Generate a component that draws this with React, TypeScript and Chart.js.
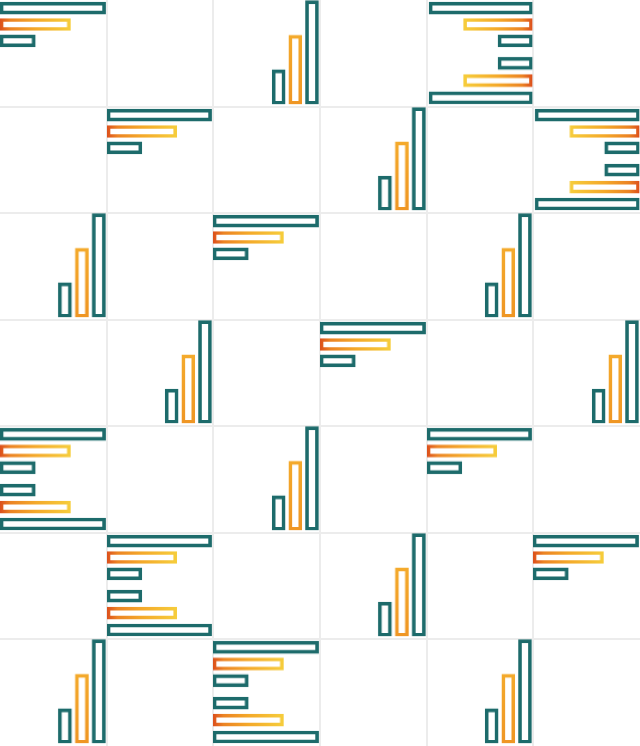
import React, { useEffect, useRef } from "react";
import { Chart, registerables } from "chart.js";

Chart.register(...registerables);

// ---- data ----
const barLabels = ["long", "medium", "short"];
const barValues = [3, 2, 1];
const horizontalMax = 3.06;
const verticalMax = 3.02;

// tile layout: H3 = three bars from the top-left, H6L / H6R = mirrored pair (left / right aligned), V = vertical bars
const tileRows = [
  ["H3", "", "V", "", "H6R", ""],
  ["", "H3", "", "V", "", "H6R"],
  ["V", "", "H3", "", "V", ""],
  ["", "V", "", "H3", "", "V"],
  ["H6L", "", "V", "", "H3", ""],
  ["", "H6L", "", "V", "", "H3"],
  ["V", "", "H6L", "", "V", ""],
];

// ---- styles ----
const TEAL = "#1d6b6b";
const W = 640;
const H = 746;
const COLS = 6;
const ROWS = 7;
const CW = W / COLS;
const CH = H / ROWS;

type Kind = "top" | "bottom" | "topR" | "bottomR" | "vertical";

function orangeGradient(chart: any, kind: Kind) {
  const { ctx, chartArea, scales } = chart;
  if (!chartArea || !scales.x || !scales.y) return "#f2a229";
  if (kind === "vertical") {
    const y0 = scales.y.getPixelForValue(0);
    const y1 = scales.y.getPixelForValue(2);
    const g = ctx.createLinearGradient(0, y0, 0, y1);
    g.addColorStop(0, "#ef9624");
    g.addColorStop(1, "#f4aa2c");
    return g;
  }
  const x0 = scales.x.getPixelForValue(0);
  const x1 = scales.x.getPixelForValue(2);
  const g = ctx.createLinearGradient(x0, 0, x1, 0);
  g.addColorStop(0, "#dc4f1c");
  g.addColorStop(0.15, "#ec8424");
  g.addColorStop(0.5, "#f4a92a");
  g.addColorStop(1, "#f6cd3c");
  return g;
}

function Motif({ kind, left, top, width, height }: { kind: Kind; left: number; top: number; width: number; height: number }) {
  const ref = useRef<HTMLCanvasElement>(null);
  useEffect(() => {
    if (!ref.current) return;
    const horizontal = kind !== "vertical";
    const reverseValue = kind === "topR" || kind === "bottomR";
    const reverseIndex = kind === "bottom" || kind === "bottomR";
    let padding: any;
    if (kind === "vertical") {
      padding = { left: width - 51 + 1, right: -1, top: 0, bottom: 3.3 };
    } else if (!reverseIndex) {
      padding = { top: -1.6, bottom: height - 50.55 + 1.6, left: reverseValue ? 0 : 0, right: reverseValue ? 1.2 : 0 };
    } else {
      padding = { bottom: 0.85, top: height - 50.7 - 0.85, left: 0, right: reverseValue ? 1.2 : 0 };
    }
    const chart = new Chart(ref.current, {
      type: "bar",
      data: {
        labels: barLabels,
        datasets: [
          {
            data: barValues,
            borderColor: (c: any) => (c.dataIndex === 1 ? orangeGradient(c.chart, kind) : TEAL),
            backgroundColor: "rgba(0,0,0,0)",
            borderWidth: 3,
            borderSkipped: false,
            barThickness: horizontal ? 12 : 13,
          } as any,
        ],
      },
      options: {
        animation: false,
        responsive: true,
        maintainAspectRatio: false,
        indexAxis: horizontal ? "y" : "x",
        events: [],
        layout: { padding },
        plugins: { legend: { display: false }, tooltip: { enabled: false } },
        scales: horizontal
          ? {
              x: { type: "linear", display: false, min: 0, max: horizontalMax, reverse: reverseValue },
              y: { type: "category", display: false, reverse: reverseIndex, offset: true },
            }
          : {
              x: { type: "category", display: false, reverse: true, offset: true },
              y: { type: "linear", display: false, min: 0, max: verticalMax },
            },
      } as any,
    });
    return () => chart.destroy();
  }, [kind, width, height]);
  return (
    <div style={{ position: "absolute", left, top, width, height }}>
      <canvas ref={ref} />
    </div>
  );
}

export default function App() {
  const motifs: any[] = [];
  tileRows.forEach((row, r) => {
    row.forEach((tile, c) => {
      const x = c * CW;
      const y = r * CH;
      const key = `${r}-${c}`;
      if (tile === "H3") {
        motifs.push(<Motif key={key + "t"} kind="top" left={x} top={y} width={CW} height={CH / 2} />);
      } else if (tile === "H6L") {
        motifs.push(<Motif key={key + "t"} kind="top" left={x} top={y} width={CW} height={CH / 2} />);
        motifs.push(<Motif key={key + "b"} kind="bottom" left={x} top={y + CH / 2} width={CW} height={CH / 2} />);
      } else if (tile === "H6R") {
        motifs.push(<Motif key={key + "t"} kind="topR" left={x} top={y} width={CW} height={CH / 2} />);
        motifs.push(<Motif key={key + "b"} kind="bottomR" left={x} top={y + CH / 2} width={CW} height={CH / 2} />);
      } else if (tile === "V") {
        motifs.push(<Motif key={key + "v"} kind="vertical" left={x + CW / 2} top={y} width={CW / 2} height={CH} />);
      }
    });
  });
  const lines: any[] = [];
  for (let k = 1; k < COLS; k++) {
    lines.push(<div key={"v" + k} style={{ position: "absolute", left: k * CW - 1, top: 0, width: 2, height: H, background: "#ececec" }} />);
  }
  for (let k = 1; k < ROWS; k++) {
    lines.push(<div key={"h" + k} style={{ position: "absolute", top: k * CH - 1, left: 0, height: 2, width: W, background: "#ececec" }} />);
  }
  return (
    <div style={{ position: "absolute", left: 0, top: 0, width: W, height: H, background: "#ffffff", overflow: "hidden" }}>
      {lines}
      {motifs}
    </div>
  );
}
